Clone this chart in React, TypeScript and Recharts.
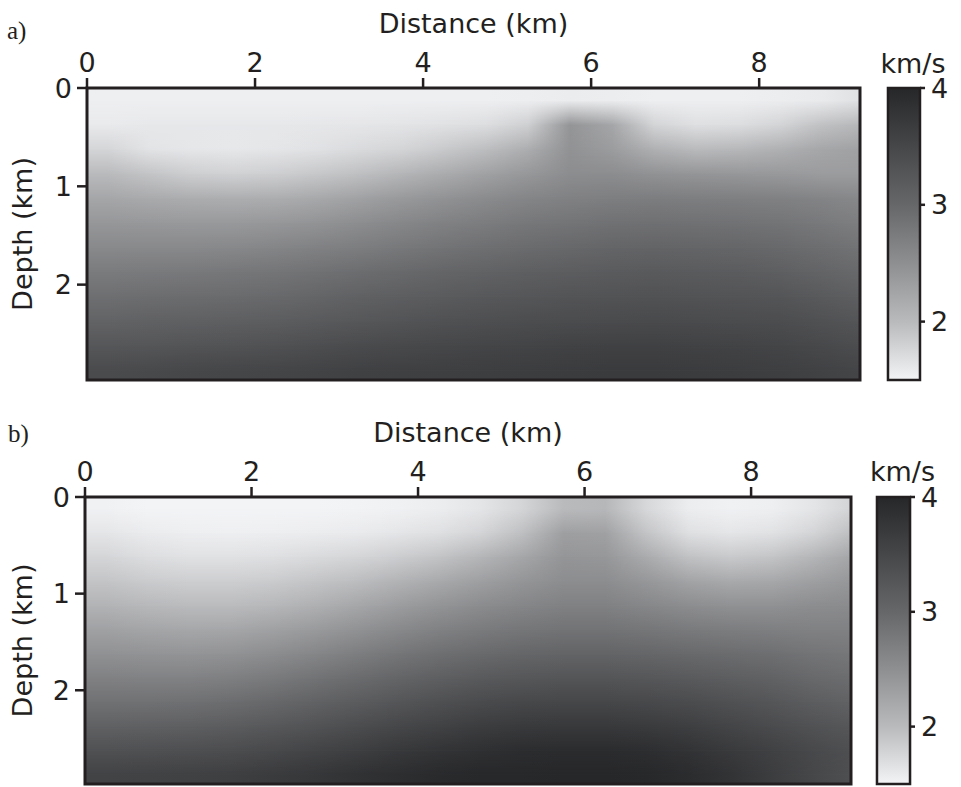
import React from 'react';
import { ScatterChart, XAxis, YAxis, ReferenceArea, ReferenceLine } from 'recharts';

// axis ticks
const distanceTicks = [0, 2, 4, 6, 8];
const depthTicks = [0, 1, 2];
const velocityTicks = [2, 3, 4];

// grid nodes of the velocity models (km)
const distanceCenters = [0.25, 0.75, 1.25, 1.75, 2.25, 2.75, 3.25, 3.75, 4.25, 4.75, 5.25, 5.75, 6.25, 6.75, 7.25, 7.75, 8.25, 8.75, 9.25];
const depthCenters = [0.125, 0.375, 0.625, 0.875, 1.125, 1.375, 1.625, 1.875, 2.125, 2.375, 2.625, 2.875];

// a) velocity model, km/s, one row per depth
const velocityA = [
  [1.54, 1.54, 1.54, 1.54, 1.54, 1.54, 1.54, 1.54, 1.54, 1.54, 1.55, 1.57, 1.56, 1.54, 1.54, 1.54, 1.56, 1.59, 1.66],
  [1.59, 1.60, 1.60, 1.60, 1.60, 1.61, 1.62, 1.64, 1.66, 1.70, 1.82, 2.43, 2.23, 1.78, 1.68, 1.70, 1.78, 1.94, 2.03],
  [1.77, 1.65, 1.62, 1.61, 1.63, 1.66, 1.72, 1.78, 1.87, 1.97, 2.15, 2.47, 2.35, 2.12, 2.00, 2.03, 2.12, 2.23, 2.29],
  [2.00, 1.91, 1.83, 1.80, 1.83, 1.89, 1.96, 2.06, 2.17, 2.29, 2.41, 2.53, 2.53, 2.47, 2.43, 2.41, 2.38, 2.35, 2.35],
  [2.23, 2.19, 2.15, 2.14, 2.15, 2.21, 2.29, 2.38, 2.47, 2.55, 2.63, 2.68, 2.71, 2.73, 2.71, 2.70, 2.68, 2.64, 2.59],
  [2.41, 2.40, 2.38, 2.38, 2.41, 2.45, 2.53, 2.60, 2.68, 2.74, 2.80, 2.84, 2.88, 2.89, 2.88, 2.86, 2.84, 2.78, 2.71],
  [2.58, 2.58, 2.58, 2.59, 2.63, 2.68, 2.73, 2.79, 2.85, 2.90, 2.95, 2.99, 3.03, 3.05, 3.03, 3.02, 2.98, 2.91, 2.85],
  [2.75, 2.76, 2.78, 2.80, 2.83, 2.88, 2.93, 2.98, 3.03, 3.08, 3.13, 3.16, 3.19, 3.20, 3.19, 3.17, 3.13, 3.05, 2.98],
  [2.90, 2.93, 2.94, 2.95, 2.98, 3.03, 3.09, 3.14, 3.19, 3.23, 3.27, 3.30, 3.31, 3.33, 3.31, 3.30, 3.28, 3.20, 3.13],
  [3.06, 3.09, 3.11, 3.13, 3.16, 3.20, 3.25, 3.30, 3.34, 3.38, 3.41, 3.42, 3.44, 3.45, 3.44, 3.42, 3.41, 3.34, 3.28],
  [3.25, 3.27, 3.30, 3.31, 3.34, 3.39, 3.44, 3.47, 3.50, 3.53, 3.55, 3.58, 3.59, 3.59, 3.58, 3.56, 3.53, 3.47, 3.41],
  [3.44, 3.47, 3.50, 3.52, 3.53, 3.56, 3.59, 3.61, 3.63, 3.64, 3.66, 3.67, 3.69, 3.69, 3.67, 3.66, 3.63, 3.58, 3.53],
];

// b) velocity model, km/s
const velocityB = [
  [1.53, 1.50, 1.50, 1.50, 1.50, 1.50, 1.51, 1.53, 1.56, 1.63, 1.77, 2.00, 2.03, 1.74, 1.56, 1.53, 1.54, 1.63, 1.78],
  [1.63, 1.58, 1.55, 1.54, 1.55, 1.57, 1.59, 1.63, 1.68, 1.78, 1.96, 2.31, 2.29, 1.91, 1.68, 1.63, 1.66, 1.78, 1.96],
  [1.77, 1.70, 1.66, 1.66, 1.68, 1.72, 1.77, 1.84, 1.92, 2.06, 2.23, 2.43, 2.41, 2.17, 1.94, 1.87, 1.91, 2.06, 2.23],
  [1.91, 1.85, 1.83, 1.83, 1.85, 1.91, 1.97, 2.08, 2.20, 2.31, 2.43, 2.53, 2.53, 2.41, 2.27, 2.20, 2.22, 2.31, 2.41],
  [2.08, 2.02, 1.99, 1.99, 2.03, 2.12, 2.22, 2.34, 2.44, 2.54, 2.61, 2.68, 2.68, 2.60, 2.53, 2.48, 2.48, 2.53, 2.55],
  [2.29, 2.24, 2.22, 2.23, 2.29, 2.37, 2.47, 2.58, 2.68, 2.75, 2.81, 2.85, 2.85, 2.81, 2.76, 2.73, 2.70, 2.68, 2.68],
  [2.48, 2.45, 2.44, 2.47, 2.53, 2.61, 2.71, 2.81, 2.90, 2.96, 3.02, 3.05, 3.05, 3.02, 2.98, 2.94, 2.90, 2.84, 2.80],
  [2.68, 2.66, 2.66, 2.70, 2.76, 2.85, 2.94, 3.03, 3.13, 3.20, 3.25, 3.28, 3.28, 3.25, 3.20, 3.14, 3.08, 2.98, 2.93],
  [2.88, 2.88, 2.89, 2.93, 2.99, 3.08, 3.17, 3.27, 3.36, 3.44, 3.48, 3.50, 3.50, 3.47, 3.42, 3.34, 3.27, 3.16, 3.08],
  [3.09, 3.11, 3.13, 3.17, 3.23, 3.31, 3.41, 3.50, 3.58, 3.66, 3.70, 3.72, 3.72, 3.69, 3.63, 3.53, 3.44, 3.33, 3.25],
  [3.34, 3.36, 3.38, 3.41, 3.47, 3.55, 3.63, 3.72, 3.80, 3.86, 3.91, 3.92, 3.92, 3.89, 3.81, 3.70, 3.59, 3.47, 3.38],
  [3.56, 3.58, 3.59, 3.63, 3.69, 3.75, 3.83, 3.89, 3.95, 3.98, 3.99, 4.00, 4.00, 3.98, 3.92, 3.81, 3.66, 3.50, 3.38],
];

// grey ramp of the velocity scale: anchor velocities and their grey level
const rampVelocities = [1.5, 2, 2.5, 3, 3.5, 4];
const rampGreys = [243, 185, 142, 102, 70, 38];

const DIST_MAX = 9.2;
const DEPTH_MAX = 2.97;
const V_MIN = 1.5;
const V_MAX = 4;
const INK = '#231f20';
const FONT = '"DejaVu Sans", sans-serif';

function velocityColor(v: number) {
  const t = Math.min(V_MAX, Math.max(V_MIN, v));
  let i = 0;
  while (i < rampVelocities.length - 2 && t > rampVelocities[i + 1]) i++;
  const f = (t - rampVelocities[i]) / (rampVelocities[i + 1] - rampVelocities[i]);
  const g = Math.round(rampGreys[i] + f * (rampGreys[i + 1] - rampGreys[i]));
  return `rgb(${g}, ${Math.min(255, g + 1)}, ${Math.min(255, g + 3)})`;
}

// one horizontal gradient per depth row, stops at the grid nodes
function RowGradients({ id, grid }: { id: string; grid: number[][] }) {
  return (
    <>
      {grid.map((row, r) => (
        <linearGradient key={r} id={`${id}-${r}`} x1="0" y1="0" x2="1" y2="0">
          {row.map((v, c) => (
            <stop key={c} offset={Math.min(1, distanceCenters[c] / DIST_MAX)} stopColor={velocityColor(v)} />
          ))}
        </linearGradient>
      ))}
    </>
  );
}

// row strips overlap the row above; the upper half fades in so rows blend linearly
const stripShape = (faded: boolean) => (props: any) => (
  <rect
    x={props.x}
    y={props.y}
    width={props.width}
    height={props.height}
    fill={props.fill}
    clipPath={props.clipPath}
    mask={faded ? 'url(#rowFade)' : undefined}
  />
);

function UnitLabel(props: any) {
  const vb = props.viewBox || {};
  return (
    <text x={vb.x + vb.width / 2 + props.shift} y={vb.y - props.gap} textAnchor="middle" fill={INK} fontSize={27} fontFamily={FONT}>
      km/s
    </text>
  );
}

const tickText = { fill: INK, fontSize: 27, fontFamily: FONT };
const tickStroke = { stroke: INK, strokeWidth: 2.5 };

interface PanelProps {
  id: string;
  grid: number[][];
  top: number;
  axisWidth: number;
  height: number;
  marginRight: number;
  marginBottom: number;
  barX1: number;
  barX2: number;
  barTickEnd: number;
  unitGap: number;
}

function VelocityPanel(p: PanelProps) {
  const strips = p.grid.map((_, r) => {
    const z = depthCenters[r];
    const step = r > 0 ? z - depthCenters[r - 1] : 0;
    return (
      <ReferenceArea
        key={r}
        x1={0}
        x2={DIST_MAX}
        y1={r === 0 ? -0.3 : depthCenters[r - 1]}
        y2={r === 0 ? depthCenters[1] : z + step}
        fill={`url(#${p.id}-${r})`}
        fillOpacity={1}
        stroke="none"
        ifOverflow="hidden"
        shape={stripShape(r > 0)}
      />
    );
  });

  return (
    <div style={{ position: 'absolute', left: 0, top: p.top }}>
      <ScatterChart width={961} height={p.height} margin={{ top: 0, right: p.marginRight, bottom: p.marginBottom, left: 0 }}>
        <XAxis
          type="number"
          dataKey="x"
          orientation="top"
          domain={[0, DIST_MAX]}
          ticks={distanceTicks}
          interval={0}
          allowDataOverflow
          height={88}
          axisLine={false}
          tickSize={10}
          tickMargin={6}
          tickLine={tickStroke}
          tick={tickText}
          label={{ value: 'Distance (km)', position: 'insideTop', offset: 14, fill: INK, fontSize: 27, fontFamily: FONT }}
        />
        <YAxis
          type="number"
          dataKey="z"
          domain={[0, DEPTH_MAX]}
          reversed
          ticks={depthTicks}
          interval={0}
          allowDataOverflow
          width={p.axisWidth}
          axisLine={false}
          tickSize={10}
          tickMargin={5}
          tickLine={tickStroke}
          tick={tickText}
          label={{
            value: 'Depth (km)',
            angle: -90,
            position: 'insideLeft',
            offset: 22,
            fill: INK,
            fontSize: 27,
            fontFamily: FONT,
            style: { textAnchor: 'middle' },
          }}
        />
        {/* velocity scale, shares the plot height */}
        <YAxis yAxisId="vel" type="number" domain={[V_MIN, V_MAX]} allowDataOverflow hide />

        {strips}
        <ReferenceArea
          x1={0}
          x2={DIST_MAX}
          y1={0}
          y2={DEPTH_MAX}
          fill="none"
          stroke={INK}
          strokeWidth={3}
          ifOverflow="visible"
        />

        <ReferenceArea
          yAxisId="vel"
          x1={p.barX1}
          x2={p.barX2}
          y1={V_MIN}
          y2={V_MAX}
          fill="url(#velocityRamp)"
          fillOpacity={1}
          stroke={INK}
          strokeWidth={2.5}
          ifOverflow="visible"
          label={<UnitLabel shift={9} gap={p.unitGap} />}
        />
        {velocityTicks.map((v) => (
          <ReferenceLine
            key={v}
            yAxisId="vel"
            segment={[
              { x: p.barX2, y: v },
              { x: p.barTickEnd, y: v },
            ]}
            stroke={INK}
            strokeWidth={2.5}
            ifOverflow="visible"
            label={{ value: String(v), position: 'right', offset: 6, fill: INK, fontSize: 27, fontFamily: FONT }}
          />
        ))}
      </ScatterChart>
    </div>
  );
}

const panelTag: React.CSSProperties = {
  position: 'absolute',
  fontFamily: '"Liberation Serif", "Times New Roman", serif',
  fontSize: 25,
  lineHeight: 1,
  color: INK,
};

export default function App() {
  return (
    <div style={{ position: 'absolute', left: 0, top: 0, width: 961, height: 787, overflow: 'hidden', background: '#fff' }}>
      <svg width={0} height={0} style={{ position: 'absolute' }}>
        <defs>
          <linearGradient id="rowFadeRamp" x1="0" y1="0" x2="0" y2="1">
            <stop offset="0" stopColor="#fff" stopOpacity={0} />
            <stop offset="0.5" stopColor="#fff" stopOpacity={1} />
            <stop offset="1" stopColor="#fff" stopOpacity={1} />
          </linearGradient>
          <mask id="rowFade" maskContentUnits="objectBoundingBox" style={{ maskType: 'alpha' } as React.CSSProperties}>
            <rect x="0" y="0" width="1" height="1" fill="url(#rowFadeRamp)" />
          </mask>
          <linearGradient id="velocityRamp" x1="0" y1="1" x2="0" y2="0">
            {rampVelocities.map((v) => (
              <stop key={v} offset={(v - V_MIN) / (V_MAX - V_MIN)} stopColor={velocityColor(v)} />
            ))}
          </linearGradient>
          <RowGradients id="rowA" grid={velocityA} />
          <RowGradients id="rowB" grid={velocityB} />
        </defs>
      </svg>

      <div style={{ ...panelTag, left: 7, top: 18 }}>a)</div>
      <VelocityPanel
        id="rowA"
        grid={velocityA}
        top={0}
        axisWidth={87}
        height={395}
        marginRight={101}
        marginBottom={15}
        barX1={9.533}
        barX2={9.914}
        barTickEnd={9.974}
        unitGap={15}
      />

      <div style={{ ...panelTag, left: 8, top: 421 }}>b)</div>
      <VelocityPanel
        id="rowB"
        grid={velocityB}
        top={409}
        axisWidth={85}
        height={378}
        marginRight={110}
        marginBottom={3}
        barX1={9.512}
        barX2={9.909}
        barTickEnd={9.969}
        unitGap={16}
      />
    </div>
  );
}
